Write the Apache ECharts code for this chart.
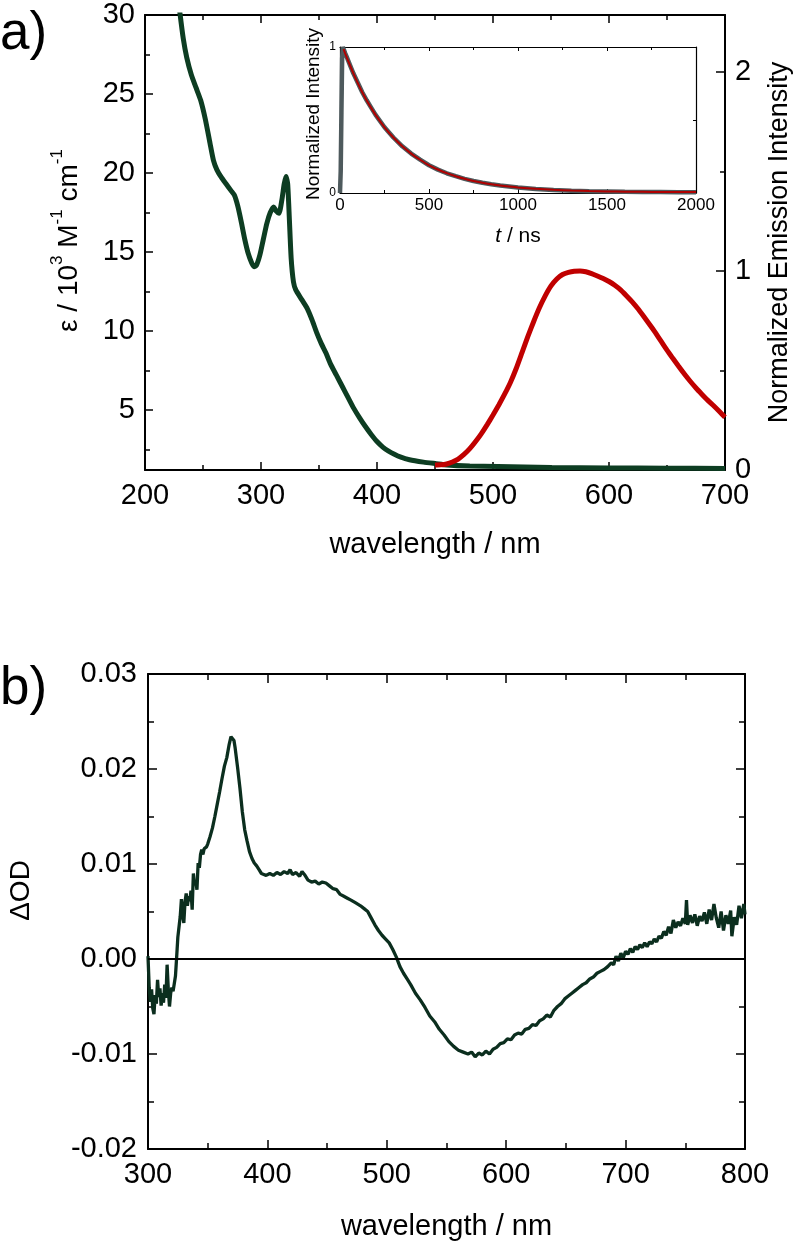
<!DOCTYPE html>
<html><head><meta charset="utf-8">
<script src="https://cdn.jsdelivr.net/npm/echarts@6/dist/echarts.min.js"></script>
<style>html,body{margin:0;padding:0;background:#fff}#c{width:793px;height:1244px}</style>
</head><body><div id="c"></div>
<script>
const FONT = '"Liberation Sans", Arial, Helvetica, sans-serif';

// ---- panel a: absorption (left axis, 10^3 M^-1 cm^-1)
const absWavelength = [228,230,233,236,240,244,248,252,256,259,262,266,270,274,277,280,283,286,289,292,294,296,299,302,305,308,311,313,315.5,318,320,321.6,323,324.5,326,328,330,335,340,344,348,352,356,360,365,370,375,380,385,390,395,400,405,410,415,420,428,440,451,460,480,504,550,600,650,700];
const absEpsilon    = [31.5,30.2,28.5,27.3,26.2,25.4,24.6,23.4,21.9,20.8,20.2,19.7,19.3,18.9,18.6,17.9,16.9,15.8,14.9,14.3,14.07,14.15,14.8,15.8,16.8,17.5,17.85,17.6,17.45,18.3,19.3,19.77,19.3,17.0,14.6,13.1,12.6,12.0,11.4,10.7,9.9,9.2,8.6,7.9,7.2,6.5,5.8,5.1,4.5,3.95,3.45,3.0,2.65,2.4,2.2,2.03,1.85,1.7,1.6,1.52,1.45,1.42,1.36,1.33,1.31,1.30];

// ---- panel a: emission (right axis, normalized)
const emWavelength = [450,455,460,465,470,475,480,485,490,495,500,505,510,515,520,525,530,535,540,545,550,555,560,565,570,575,580,585,590,595,600,605,610,615,620,625,630,635,640,645,650,655,660,665,670,675,680,685,690,695,700];
const emIntensity  = [0.025,0.026,0.03,0.04,0.055,0.078,0.107,0.143,0.183,0.228,0.276,0.327,0.381,0.44,0.51,0.59,0.67,0.745,0.815,0.875,0.925,0.96,0.982,0.993,0.999,1.0,0.996,0.987,0.975,0.962,0.947,0.928,0.905,0.876,0.845,0.81,0.771,0.731,0.69,0.646,0.602,0.561,0.521,0.482,0.446,0.412,0.381,0.351,0.324,0.295,0.265];

// ---- inset: emission decay
const decayTime     = [0,4,8,12,16,20,30,40,50,75,100,125,150,175,200,250,300,350,400,450,500,550,600,650,700,750,800,850,900,950,1000,1100,1200,1300,1400,1500,1600,1700,1800,1900,2000];
const decayMeasured = [0.0,0.15,0.55,0.92,1.0,0.99,0.955,0.925,0.895,0.82,0.755,0.69,0.635,0.585,0.535,0.45,0.38,0.32,0.27,0.228,0.19,0.16,0.135,0.115,0.097,0.082,0.07,0.06,0.051,0.044,0.037,0.028,0.021,0.016,0.012,0.01,0.008,0.007,0.006,0.005,0.005];
const fitTime       = [20,30,40,50,75,100,125,150,175,200,250,300,350,400,450,500,550,600,650,700,750,800,850,900,950,1000,1100,1200,1300,1400,1500,1600,1700,1800,1900,2000];
const fitValue      = [0.985,0.953,0.922,0.893,0.82,0.753,0.69,0.634,0.583,0.535,0.45,0.38,0.32,0.27,0.228,0.19,0.161,0.136,0.115,0.097,0.082,0.07,0.06,0.051,0.044,0.038,0.029,0.022,0.017,0.013,0.011,0.009,0.008,0.007,0.006,0.006];

// ---- panel b: transient absorption
const taWavelength = [300,301,302,303,304,305,306,307,308,309,310,311,312,313,314,315,316,317,318,319,320,321,322,323,324,325,326,327,328,329,330,331,332,333,334,335,336,337,338,339,340,341,342,343,344,345,346,347,348,349,350,352,354,356,358,360,362,364,366,368,369.5,371,372,373,375,377,379,381,383,385,387,389,391,393,395,397,399,402,405,408,411,414,417,419,421,424,427,429,431,434,437,440,443,446,449,452,455,458,461,464,467,470,474,478,481,484,487,490,493,496,499,502,505,508,511,514,517,520,524,528,532,536,540,544,548,552,556,560,564,568,571,574,577,580,583,586,589,592,595,598,601,604,607,610,613,616,619,622,625,628,631,634,637,640,643,646,649,652,655,658,661,664,667,670,673,676,679,682,685,688,690,692,694,696,698,700,702,704,706,708,710,712,714,716,718,720,722,724,726,728,730,732,734,736,738,740,742,744,746,748,750,751,752,754,756,758,760,762,764,766,768,770,772,774,776,778,780,782,784,786,788,789,791,793,795,797,799,800];
const taDeltaOD = [0.0003,-0.0030,-0.0045,-0.0032,-0.0052,-0.0058,-0.0038,-0.0047,-0.0022,-0.0040,-0.0031,-0.0049,-0.0036,-0.0046,-0.0027,-0.0041,-0.0006,-0.0032,-0.0050,-0.0036,-0.0030,-0.0034,-0.0026,-0.0018,0.0002,0.0023,0.0025,0.0045,0.0063,0.0047,0.0038,0.0060,0.0069,0.0056,0.0066,0.0061,0.0072,0.0052,0.0090,0.0078,0.0082,0.0073,0.0101,0.0096,0.0110,0.0115,0.0110,0.0116,0.0114,0.0118,0.0121,0.0129,0.0138,0.0150,0.0163,0.0176,0.0190,0.0203,0.0212,0.0226,0.0234,0.0235,0.0230,0.0222,0.0202,0.0180,0.0155,0.0136,0.0124,0.0113,0.0106,0.0101,0.0098,0.0094,0.0090,0.0089,0.0088,0.0090,0.0088,0.0091,0.0089,0.0092,0.0090,0.0094,0.0089,0.0091,0.0087,0.0092,0.0089,0.0083,0.0081,0.0082,0.0079,0.0081,0.0080,0.0077,0.0074,0.0073,0.0068,0.0066,0.0064,0.0062,0.0059,0.0056,0.0053,0.0050,0.0043,0.0036,0.0030,0.0025,0.0021,0.0017,0.0010,0.0002,-0.0008,-0.0015,-0.0021,-0.0027,-0.0036,-0.0043,-0.0051,-0.0060,-0.0066,-0.0074,-0.0080,-0.0087,-0.0092,-0.0096,-0.0098,-0.0100,-0.0098,-0.0103,-0.0099,-0.0101,-0.0097,-0.0100,-0.0095,-0.0093,-0.0089,-0.0088,-0.0084,-0.0085,-0.0080,-0.0078,-0.0079,-0.0074,-0.0073,-0.0069,-0.0070,-0.0065,-0.0063,-0.0059,-0.0061,-0.0054,-0.0050,-0.0047,-0.0042,-0.0039,-0.0036,-0.0033,-0.0030,-0.0027,-0.0025,-0.0021,-0.0019,-0.0015,-0.0013,-0.0011,-0.0008,-0.0004,-0.0006,0.0003,-0.0002,0.0006,0.0001,0.0008,0.0005,0.0011,0.0007,0.0013,0.0010,0.0015,0.0012,0.0017,0.0013,0.0018,0.0016,0.0021,0.0018,0.0024,0.0022,0.0029,0.0025,0.0034,0.0027,0.0041,0.0033,0.0039,0.0035,0.0043,0.0037,0.0062,0.0036,0.0046,0.0038,0.0047,0.0035,0.0045,0.0040,0.0049,0.0037,0.0052,0.0041,0.0058,0.0043,0.0033,0.0050,0.0030,0.0046,0.0037,0.0051,0.0024,0.0044,0.0036,0.0056,0.0043,0.0058,0.0047];

// ---- tick values / labels
const epsTicks = [5,10,15,20,25,30];
const epsMinorTicks = [2.5,7.5,12.5,17.5,22.5,27.5];
const emTicks = [0,1,2];
const emMinorTicks = [0.5,1.5];

const pairs = (xs, ys) => xs.map((x, i) => [x, ys[i]]);

const BLACK = '#000';
const LBL = 29;
const NAME = 29;
const axLine = w => ({show: true, onZero: false, lineStyle: {color: BLACK, width: w}});
const majTick = (len, w) => ({show: true, inside: true, length: len, lineStyle: {color: BLACK, width: w}});
const minTick = (len, w) => ({show: true, splitNumber: 2, length: len, lineStyle: {color: BLACK, width: w}});
const lbl = (size, margin) => ({color: BLACK, fontSize: size, fontFamily: FONT, margin: margin});
const noSplit = {show: false};

const xAxis = [
  { // 0 panel a bottom
    gridIndex: 0, type: 'value', position: 'bottom', min: 200, max: 700, interval: 100,
    axisLine: axLine(2), axisTick: majTick(8, 1.5), minorTick: minTick(5, 1.5),
    axisLabel: lbl(LBL, 11), splitLine: noSplit,
    name: 'wavelength / nm', nameLocation: 'middle', nameGap: 60,
    nameTextStyle: {color: BLACK, fontSize: NAME, fontFamily: FONT}
  },
  { // 1 panel a top
    gridIndex: 0, type: 'value', position: 'top', min: 200, max: 700, interval: 100,
    axisLine: axLine(2), axisTick: majTick(8, 1.5), minorTick: minTick(5, 1.5),
    axisLabel: {show: false}, splitLine: noSplit
  },
  { // 2 inset bottom
    gridIndex: 1, type: 'value', position: 'bottom', min: 0, max: 2000, interval: 500,
    axisLine: axLine(1.2), axisTick: majTick(4, 1), minorTick: minTick(3, 1),
    axisLabel: Object.assign(lbl(17, 4), {formatter: v => String(v)}), splitLine: noSplit,
    name: '{it|t} / ns', nameLocation: 'middle', nameGap: 33,
    nameTextStyle: {color: BLACK, fontSize: 21, fontFamily: FONT,
      rich: {it: {fontStyle: 'italic', fontSize: 21, fontFamily: FONT, color: BLACK}}}
  },
  { // 3 inset top
    gridIndex: 1, type: 'value', position: 'top', min: 0, max: 2000, interval: 500,
    axisLine: axLine(1.2), axisTick: majTick(4, 1), minorTick: minTick(3, 1),
    axisLabel: {show: false}, splitLine: noSplit
  },
  { // 4 panel b bottom
    gridIndex: 2, type: 'value', position: 'bottom', min: 300, max: 800, interval: 100,
    axisLine: axLine(2), axisTick: majTick(9, 1.5), minorTick: minTick(6, 1.5),
    axisLabel: lbl(LBL, 11), splitLine: noSplit,
    name: 'wavelength / nm', nameLocation: 'middle', nameGap: 63,
    nameTextStyle: {color: BLACK, fontSize: NAME, fontFamily: FONT}
  },
  { // 5 panel b top
    gridIndex: 2, type: 'value', position: 'top', min: 300, max: 800, interval: 100,
    axisLine: axLine(2), axisTick: majTick(9, 1.5), minorTick: minTick(6, 1.5),
    axisLabel: {show: false}, splitLine: noSplit
  }
];

const yAxis = [
  { // 0 epsilon
    gridIndex: 0, type: 'value', position: 'left', min: 1.2, max: 30,
    axisLine: axLine(2),
    axisTick: {show: true, inside: true, length: 8, customValues: epsTicks, lineStyle: {color: BLACK, width: 1.5}},
    axisLabel: Object.assign(lbl(LBL, 10), {customValues: epsTicks}), splitLine: noSplit,
    name: '{n|ε / 10}{s|3}{n| M}{s|-1}{n| cm}{s|-1}', nameLocation: 'middle', nameGap: 62, nameRotate: 90,
    nameTextStyle: {color: BLACK, fontSize: 28, fontFamily: FONT, padding: [0, 0, 0, 4],
      rich: {
        n: {fontSize: 28, fontFamily: FONT, color: BLACK, lineHeight: 34, verticalAlign: 'bottom'},
        s: {fontSize: 17, fontFamily: FONT, color: BLACK, lineHeight: 34, verticalAlign: 'top'}
      }}
  },
  { // 1 epsilon minor ticks
    gridIndex: 0, type: 'value', position: 'left', min: 1.2, max: 30,
    axisLine: {show: false},
    axisTick: {show: true, inside: true, length: 5, customValues: epsMinorTicks, lineStyle: {color: BLACK, width: 1.5}},
    axisLabel: {show: false}, splitLine: noSplit
  },
  { // 2 emission
    gridIndex: 0, type: 'value', position: 'right', min: 0, max: 2.286,
    axisLine: axLine(2),
    axisTick: {show: true, inside: true, length: 9, customValues: emTicks, lineStyle: {color: BLACK, width: 1.5}},
    axisLabel: Object.assign(lbl(LBL, 10), {customValues: emTicks}), splitLine: noSplit,
    name: 'Normalized Emission Intensity', nameLocation: 'middle', nameGap: 41, nameRotate: 90,
    nameTextStyle: {color: BLACK, fontSize: 27, fontFamily: FONT, verticalAlign: 'top'}
  },
  { // 3 emission minor ticks
    gridIndex: 0, type: 'value', position: 'right', min: 0, max: 2.286,
    axisLine: {show: false},
    axisTick: {show: true, inside: true, length: 5, customValues: emMinorTicks, lineStyle: {color: BLACK, width: 1.5}},
    axisLabel: {show: false}, splitLine: noSplit
  },
  { // 4 inset left
    gridIndex: 1, type: 'value', position: 'left', min: 0, max: 1, interval: 1,
    axisLine: axLine(1.2), axisTick: majTick(4, 1), minorTick: minTick(3, 1),
    axisLabel: lbl(12, 4), splitLine: noSplit,
    name: 'Normalized Intensity', nameLocation: 'middle', nameGap: 17, nameRotate: 90,
    nameTextStyle: {color: BLACK, fontSize: 19, fontFamily: FONT, padding: [0, 0, 0, 12]}
  },
  { // 5 inset right
    gridIndex: 1, type: 'value', position: 'right', min: 0, max: 1, interval: 1,
    axisLine: axLine(1.2), axisTick: majTick(4, 1), minorTick: minTick(3, 1),
    axisLabel: {show: false}, splitLine: noSplit
  },
  { // 6 delta OD
    gridIndex: 2, type: 'value', position: 'left', min: -0.02, max: 0.03, interval: 0.01,
    axisLine: axLine(2), axisTick: majTick(9, 1.5), minorTick: minTick(6, 1.5),
    axisLabel: Object.assign(lbl(LBL, 11), {formatter: v => Math.abs(v) < 1e-9 ? '0.00' : v.toFixed(2)}),
    splitLine: noSplit,
    name: 'ΔOD', nameLocation: 'middle', nameGap: 113, nameRotate: 90,
    nameTextStyle: {color: BLACK, fontSize: 28, fontFamily: FONT, padding: [0, 0, 0, 42]}
  },
  { // 7 delta OD right
    gridIndex: 2, type: 'value', position: 'right', min: -0.02, max: 0.03, interval: 0.01,
    axisLine: axLine(2), axisTick: majTick(9, 1.5), minorTick: minTick(6, 1.5),
    axisLabel: {show: false}, splitLine: noSplit
  }
];

const option = {
  backgroundColor: '#fff',
  animation: false,
  grid: [
    {left: 145, top: 15, width: 580, height: 455, containLabel: false, outerBoundsMode: 'none'},
    {left: 340, top: 47, width: 356, height: 146, containLabel: false, outerBoundsMode: 'none'},
    {left: 148, top: 674, width: 597, height: 475, containLabel: false, outerBoundsMode: 'none'}
  ],
  xAxis: xAxis,
  yAxis: yAxis,
  graphic: [
    {type: 'text', left: 0, top: 8, style: {text: 'a)', fontSize: 53, fontFamily: FONT, fill: BLACK}},
    {type: 'text', left: 0, top: 663, style: {text: 'b)', fontSize: 53, fontFamily: FONT, fill: BLACK}}
  ],
  series: [
    {
      name: 'absorption', type: 'line', xAxisIndex: 0, yAxisIndex: 0,
      data: pairs(absWavelength, absEpsilon), showSymbol: false, smooth: 0.2,
      lineStyle: {color: '#0d3d22', width: 5}, itemStyle: {color: '#0d3d22'}
    },
    {
      name: 'emission', type: 'line', xAxisIndex: 0, yAxisIndex: 2,
      data: pairs(emWavelength, emIntensity), showSymbol: false, smooth: 0.15,
      lineStyle: {color: '#c00000', width: 5}, itemStyle: {color: '#c00000'}
    },
    {
      name: 'decay', type: 'line', xAxisIndex: 2, yAxisIndex: 4,
      data: pairs(decayTime, decayMeasured), showSymbol: false,
      lineStyle: {color: '#4e5a5d', width: 4.5}, itemStyle: {color: '#4e5a5d'}
    },
    {
      name: 'fit', type: 'line', xAxisIndex: 2, yAxisIndex: 4,
      data: pairs(fitTime, fitValue), showSymbol: false, smooth: 0.2,
      lineStyle: {color: '#b00000', width: 2}, itemStyle: {color: '#b00000'}
    },
    {
      name: 'deltaOD', type: 'line', xAxisIndex: 4, yAxisIndex: 6,
      data: pairs(taWavelength, taDeltaOD), showSymbol: false,
      lineStyle: {color: '#0b2e1e', width: 3.3}, itemStyle: {color: '#0b2e1e'},
      markLine: {
        silent: true, symbol: ['none', 'none'], label: {show: false},
        lineStyle: {color: BLACK, width: 1.8, type: 'solid'},
        data: [{yAxis: 0}]
      }
    }
  ]
};

const chart = echarts.init(document.getElementById('c'), null, {renderer: 'canvas'});
chart.setOption(option);
</script>
</body></html>
